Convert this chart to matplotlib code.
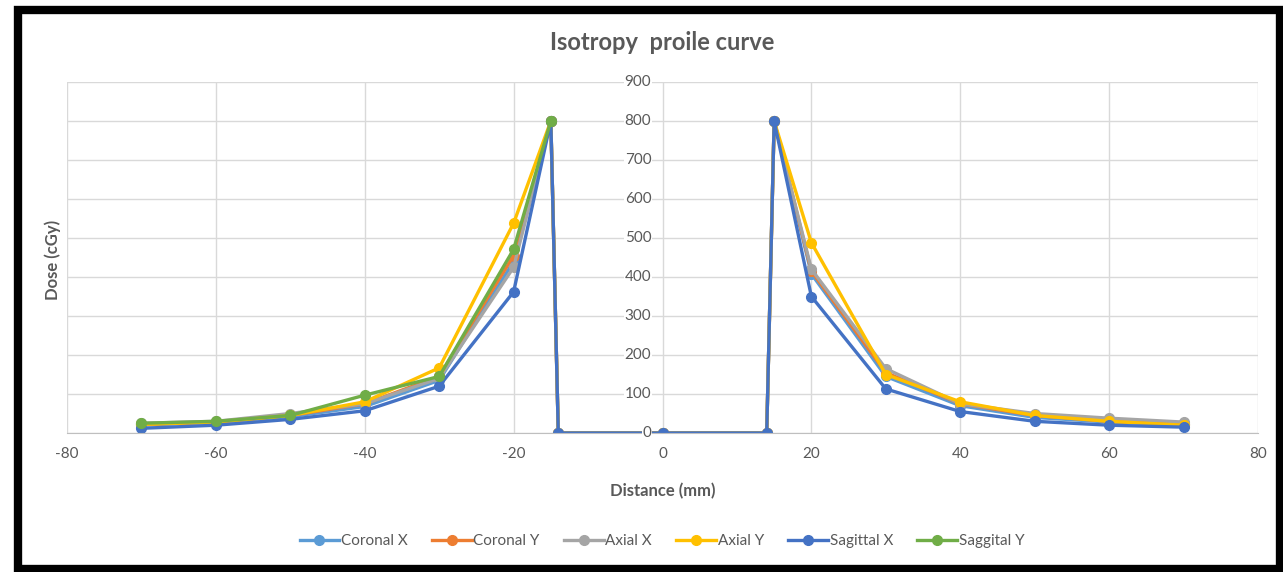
import numpy as np
import matplotlib.pyplot as plt
from matplotlib.patches import Rectangle

plt.rcParams['font.family'] = ['Lato', 'DejaVu Sans']
plt.rcParams['axes.unicode_minus'] = False

# distance from centre (mm)
dist = [-70, -60, -50, -40, -30, -20, -15, -14, 0, 14, 15, 20, 30, 40, 50, 60, 70]
nan = np.nan

# dose (cGy) for each series
coronal_x = [20, 28, 42, 68, 135, 440, 800, 0, 0, 0, 800, 408, 145, 70, 40, 28, 22]
coronal_y = [22, 28, 45, 75, 145, 455, 800, 0, 0, 0, 800, 415, 155, 75, 45, 30, 22]
axial_x = [25, 30, 50, 75, 140, 425, 800, 0, 0, 0, 800, 420, 165, 75, 50, 38, 28]
axial_y = [22, 28, 45, 80, 167, 538, 800, 0, 0, 0, 800, 488, 150, 80, 45, 30, 20]
sagittal_x = [12, 20, 35, 57, 120, 362, 800, 0, 0, 0, 800, 350, 113, 55, 30, 20, 15]
saggital_y = [25, 30, 45, 97, 145, 471, 800, nan, nan, nan, nan, nan, nan, nan, nan, nan, nan]

names = ['Coronal X', 'Coronal Y', 'Axial X', 'Axial Y', 'Sagittal X', 'Saggital Y']
series = [coronal_x, coronal_y, axial_x, axial_y, sagittal_x, saggital_y]
colors = ['#5B9BD5', '#ED7D31', '#A5A5A5', '#FFC000', '#4472C4', '#70AD47']

fig = plt.figure(figsize=(12.83, 5.72), dpi=100)
ax = fig.add_axes([67/1283, 1 - 433/572, (1258 - 67)/1283, (433 - 82)/572])

for name, vals, c in zip(names, series, colors):
    ax.plot(dist, vals, color=c, lw=2.4, marker='o', ms=7, label=name)

ax.set_xlim(-80, 80)
ax.set_ylim(0, 900)
ax.set_xticks(np.arange(-80, 81, 20))
ax.set_yticks(np.arange(0, 901, 100))
ax.grid(True, color='#D9D9D9', lw=1)
ax.set_axisbelow(True)
for s in ['top', 'right', 'left']:
    ax.spines[s].set_visible(False)
ax.spines['bottom'].set_color('#BFBFBF')
ax.tick_params(axis='both', length=0, colors='#595959', labelsize=11)
ax.tick_params(axis='x', pad=10)

# y tick labels sit next to the vertical axis at x = 0
ax.set_yticklabels([])
for v in np.arange(0, 901, 100):
    ax.text(-1.5, v, str(v), ha='right', va='center', fontsize=11, color='#595959',
            bbox=dict(fc='white', ec='none', pad=0.5))

ax.set_xlabel('Distance (mm)', fontsize=12, fontweight='bold', color='#595959', labelpad=16)
fig.text(53/1283, 1 - 260/572, 'Dose (cGy)', rotation=90, ha='center', va='center',
         fontsize=12, fontweight='bold', color='#595959')
fig.text(662/1283, 1 - 43/572, 'Isotropy  proile curve', ha='center', va='center',
         fontsize=17, fontweight='bold', color='#595959')

fig.legend(loc='center', bbox_to_anchor=(662/1283, 1 - 541/572), ncol=6, frameon=False,
           fontsize=11, labelcolor='#595959', handlelength=2.6, columnspacing=1.6,
           handletextpad=0.1)

# thick black frame
fig.patches.append(Rectangle((18/1283, 3/572), 1262/1283, 559/572, transform=fig.transFigure,
                             fill=False, ec='black', lw=6))

fig.savefig('out.png', dpi=100)
